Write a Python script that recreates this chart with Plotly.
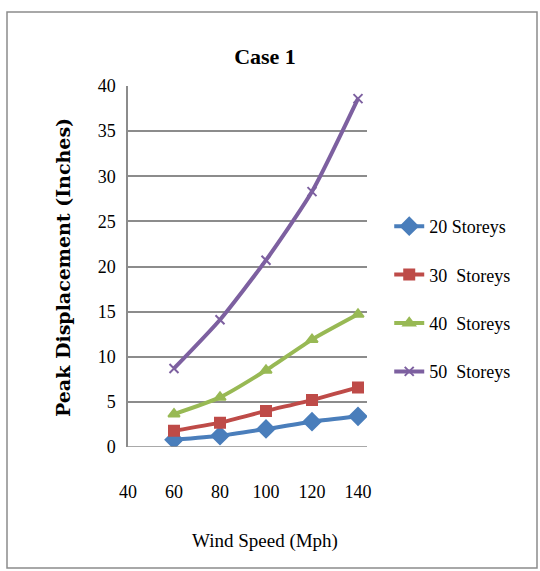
import plotly.graph_objects as go

wind_speed = [60, 80, 100, 120, 140]
s20 = [0.8, 1.25, 2.0, 2.8, 3.4]
s30 = [1.8, 2.7, 4.0, 5.2, 6.6]
s40 = [3.65, 5.5, 8.5, 11.9, 14.7]
s50 = [8.7, 14.1, 20.7, 28.3, 38.6]
names = ["20 Storeys", "30  Storeys", "40  Storeys", "50  Storeys"]
series = [s20, s30, s40, s50]
colors = ["#4A7EBB", "#BE4B48", "#98B954", "#7D60A0"]
symbols = ["diamond", "square", "triangle-up", "x-thin"]
msizes = [13, 10, 10, 9]

fig = go.Figure()
for i, (nm, ys) in enumerate(zip(names, series)):
    fig.add_trace(go.Scatter(
        x=wind_speed, y=ys, name=nm, mode="lines+markers",
        line=dict(color=colors[i], width=4, shape="spline", smoothing=0.6),
        marker=dict(symbol=symbols[i], size=msizes[i], color=colors[i],
                    line=dict(color=colors[i], width=2)),
        legendgroup=str(i),
    ))

L, R, T, B = 128, 367, 86, 447
W, H = 540, 571
pw, ph = R - L, B - T

fig.update_layout(
    width=W, height=H,
    margin=dict(l=L, r=W - R, t=T, b=H - B),
    paper_bgcolor="white", plot_bgcolor="white",
    font=dict(family="Liberation Serif", color="black", size=16),
    title=dict(text="<b>Case 1</b>", x=265 / W, xanchor="center",
               y=1 - 56 / H, yanchor="middle",
               font=dict(family="Liberation Serif", size=22, color="black")),
    xaxis=dict(range=[40, 40 + (R - L) / 46 * 20], tickvals=[40, 60, 80, 100, 120, 140],
               showgrid=False, zeroline=False, showline=False,
               ticks="outside", ticklen=28, tickcolor="rgba(0,0,0,0)",
               tickfont=dict(size=18)),
    yaxis=dict(range=[0, 40], tickvals=list(range(0, 45, 5)),
               showgrid=True, gridcolor="#8c8c8c", gridwidth=1.5,
               zeroline=False, showline=True, linecolor="#8c8c8c", linewidth=1.5,
               ticks="outside", ticklen=7, tickcolor="rgba(0,0,0,0)",
               tickfont=dict(size=18)),
    legend=dict(x=1.093, xanchor="left", y=(B - 208) / ph, yanchor="top",
                font=dict(size=18), tracegroupgap=22, itemwidth=30,
                bgcolor="rgba(0,0,0,0)"),
    showlegend=True,
)

fig.add_annotation(text="<b>Peak Displacement (Inches)</b>", textangle=-90,
                   xref="paper", yref="paper", x=(63 - L) / pw, y=(B - 268) / ph,
                   xanchor="center", yanchor="middle", showarrow=False,
                   font=dict(family="DejaVu Serif", size=19, color="black"))
fig.add_annotation(text="Wind Speed (Mph)", xref="paper", yref="paper",
                   x=(265 - L) / pw, y=(B - 541) / ph, xanchor="center", yanchor="middle",
                   showarrow=False, font=dict(size=19, color="black"))
# x-axis baseline
fig.add_shape(type="line", xref="paper", yref="y", x0=0, x1=1, y0=0, y1=0,
              line=dict(color="#8c8c8c", width=1.5))
# outer border
fig.add_shape(type="rect", xref="paper", yref="paper",
              x0=(7 - L) / pw, x1=(537 - L) / pw, y0=(B - 568) / ph, y1=(B - 12) / ph,
              line=dict(color="#8c8c8c", width=1.5), layer="below")

fig.write_html("out.html")
